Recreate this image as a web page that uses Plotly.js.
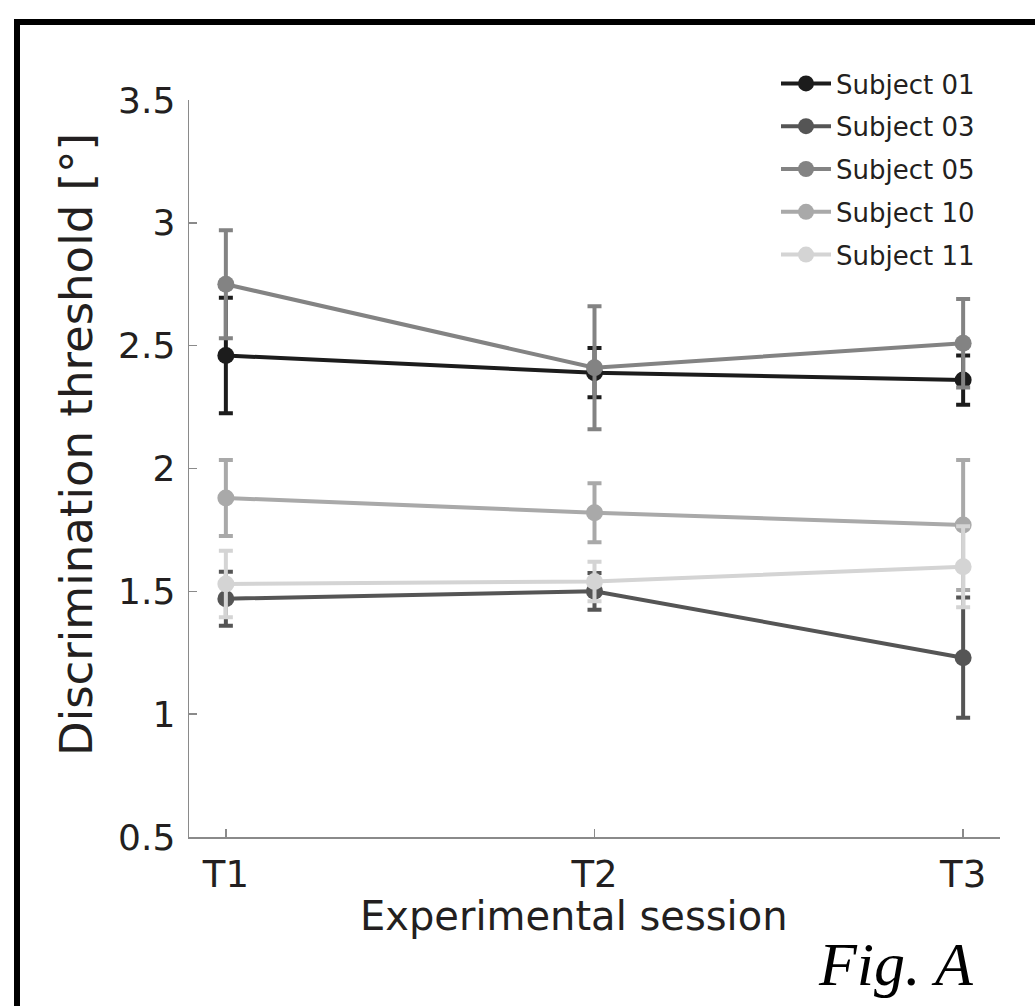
<!DOCTYPE html>
<html>
<head>
<meta charset="utf-8">
<script src="https://cdn.plot.ly/plotly-3.0.1.min.js"></script>
<style>
html,body{margin:0;padding:0;background:#fff;}
#chart{width:1035px;height:1006px;}
</style>
</head>
<body>
<div id="chart"></div>
<script>
// ---- data ----
const sessions = ['T1', 'T2', 'T3'];
const subjectNames = ['Subject 01', 'Subject 03', 'Subject 05', 'Subject 10', 'Subject 11'];
const subject01 = [2.46, 2.39, 2.36];
const subject01Err = [0.235, 0.10, 0.10];
const subject03 = [1.47, 1.50, 1.23];
const subject03Err = [0.11, 0.075, 0.245];
const subject05 = [2.75, 2.41, 2.51];
const subject05Err = [0.22, 0.25, 0.18];
const subject10 = [1.88, 1.82, 1.77];
const subject10Err = [0.155, 0.12, 0.265];
const subject11 = [1.53, 1.54, 1.60];
const subject11Err = [0.135, 0.08, 0.165];
const yTickVals = [0.5, 1, 1.5, 2, 2.5, 3, 3.5];
const yTickText = ['0.5', '1', '1.5', '2', '2.5', '3', '3.5'];
const xTitle = 'Experimental session';
const yTitle = 'Discrimination threshold [°]';
const figLabel = 'Fig. A';

// ---- styling ----
const colors = ['#1c1c1c', '#555555', '#838383', '#a9a9a9', '#d4d4d4'];
const values = [subject01, subject03, subject05, subject10, subject11];
const errors = [subject01Err, subject03Err, subject05Err, subject10Err, subject11Err];
const FONT = 'DejaVu Sans, sans-serif';
const TXT = '#231f20';
const AX = '#8a8a8a';

const traces = subjectNames.map((name, i) => ({
  type: 'scatter',
  mode: 'lines+markers',
  name: name,
  legendgroup: 'g' + i,
  x: sessions,
  y: values[i],
  line: {color: colors[i], width: 4},
  marker: {color: colors[i], size: 17},
  error_y: {type: 'data', array: errors[i], visible: true, color: colors[i], thickness: 4, width: 7},
  cliponaxis: false
}));

const W = 1035, H = 1006;
const M = {l: 189, r: 35, t: 100, b: 169};
const pw = W - M.l - M.r, ph = H - M.t - M.b;
const px = v => (v - M.l) / pw;          // pixel x -> paper x
const py = v => (H - M.b - v) / ph;      // pixel y -> paper y

const layout = {
  width: W, height: H,
  margin: M,
  paper_bgcolor: '#fff',
  plot_bgcolor: '#fff',
  font: {family: FONT, color: TXT},
  showlegend: true,
  legend: {
    x: px(776), y: py(60), xanchor: 'left', yanchor: 'top',
    bgcolor: 'rgba(0,0,0,0)', borderwidth: 0,
    font: {family: FONT, size: 26, color: TXT},
    itemwidth: 50, tracegroupgap: 6, traceorder: 'grouped'
  },
  xaxis: {
    type: 'category',
    range: [-0.1, 2.1],
    showline: true, linecolor: AX, linewidth: 1.5,
    ticks: 'inside', ticklen: 8, tickcolor: AX, tickwidth: 1.5,
    showgrid: false, zeroline: false,
    tickfont: {family: FONT, size: 37, color: TXT},
    ticklabelstandoff: 4
  },
  yaxis: {
    range: [0.5, 3.5],
    tickvals: yTickVals, ticktext: yTickText,
    showline: true, linecolor: AX, linewidth: 1.5,
    ticks: 'inside', ticklen: 8, tickcolor: AX, tickwidth: 1.5,
    showgrid: false, zeroline: false,
    tickfont: {family: FONT, size: 36, color: TXT},
    ticklabelstandoff: 5
  },
  shapes: [
    {type: 'line', xref: 'paper', yref: 'paper', x0: px(17), x1: px(17), y0: py(19), y1: py(1010), line: {color: '#000', width: 6}},
    {type: 'line', xref: 'paper', yref: 'paper', x0: px(14), x1: px(1040), y0: py(22), y1: py(22), line: {color: '#000', width: 6}}
  ],
  annotations: [
    {text: yTitle, textangle: -90, xref: 'paper', yref: 'paper', x: px(76), y: py(445), xanchor: 'center', yanchor: 'middle',
     showarrow: false, font: {family: FONT, size: 45, color: TXT}},
    {text: xTitle, xref: 'paper', yref: 'paper', x: px(574), y: py(916), xanchor: 'center', yanchor: 'middle',
     showarrow: false, font: {family: FONT, size: 40, color: TXT}},
    {text: figLabel, xref: 'paper', yref: 'paper', x: px(976), y: py(1000), xanchor: 'right', yanchor: 'bottom',
     showarrow: false, font: {family: 'Liberation Serif, Times New Roman, serif', size: 62, color: '#000', style: 'italic'}}
  ]
};

Plotly.newPlot('chart', traces, layout, {displayModeBar: false, staticPlot: true});
</script>
</body>
</html>
